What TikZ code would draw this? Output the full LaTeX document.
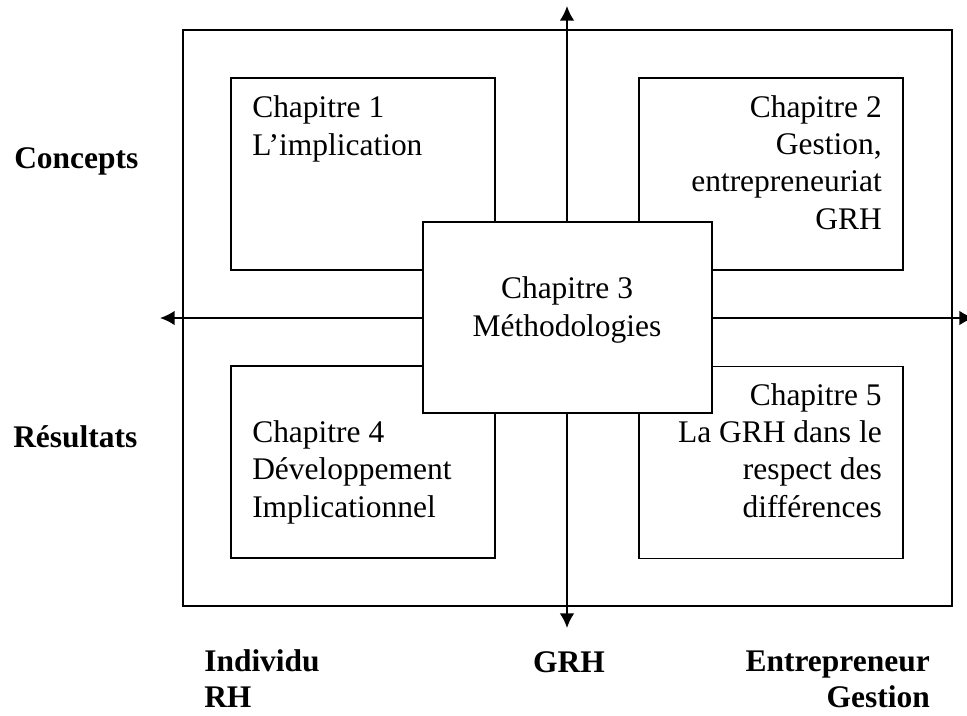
\documentclass[tikz,border=0pt]{standalone}
\usepackage{fontspec}
\setmainfont{Liberation Serif}
\usetikzlibrary{arrows.meta,positioning}

\begin{document}
\begin{tikzpicture}[
  x=0.75pt, y=-0.75pt,
  >={Latex[length=11pt,width=11pt]},
  every node/.style={font=\fontsize{23.6}{27.8}\selectfont, inner sep=0pt},
  chapbox/.style={draw, line width=1.4pt, fill=white,
    minimum width=198pt, minimum height=144pt},
  axis/.style={<->, line width=1.4pt},
  axislabel/.style={font=\fontsize{23.6}{26.3}\selectfont\bfseries},
]
\useasboundingbox (0,0) rectangle (967,715);

% Outer frame
\node[draw, line width=1.4pt, minimum width=576.75pt, minimum height=432pt]
  (frame) at (567.5,318) {};

% Axes
\coordinate (vtop) at (567,6);
\coordinate (vbot) at (567,628);
\coordinate (hleft) at (160,318);
\coordinate (hright) at (974,318);
\draw[axis] (vbot) -- (vtop);
\draw[axis] (hleft) -- (hright);

% Chapter boxes
\node[chapbox] (ch1) at (363,174) {};
\node[chapbox] (ch2) at (771,174) {};
\node[chapbox] (ch4) at (363,462) {};
\node[chapbox] (ch5) at (771,462.5) {};
\node[chapbox, minimum width=216.75pt, minimum height=143.25pt]
  (ch3) at (567.5,317.5) {};

% Chapter texts (base = last line)
\node[anchor=base west, align=left] (t1) at (252,155)
  {Chapitre 1\\L’implication};
\node[anchor=base east, align=right] (t2) at (882,229)
  {Chapitre 2\\Gestion,\\entrepreneuriat\\GRH};
\node[anchor=base, align=center] (t3) at (567,336)
  {Chapitre 3\\Méthodologies};
\node[anchor=base west, align=left] (t4) at (252,517)
  {Chapitre 4\\Développement\\Implicationnel};
\node[anchor=base east, align=right] (t5) at (882,517)
  {Chapitre 5\\La GRH dans le\\respect des\\différences};

% Axis labels
\node[axislabel, anchor=base west] (concepts) at (14,168) {Concepts};
\node[axislabel, anchor=base west] (resultats) at (13,447) {Résultats};
\node[axislabel, anchor=base west, align=left] (individu) at (204,707)
  {Individu\\RH};
\node[axislabel, anchor=base] (grh) at (569,672) {GRH};
\node[axislabel, anchor=base east, align=right] (entrepreneur) at (930,707)
  {Entrepreneur\\Gestion};
\end{tikzpicture}
\end{document}
